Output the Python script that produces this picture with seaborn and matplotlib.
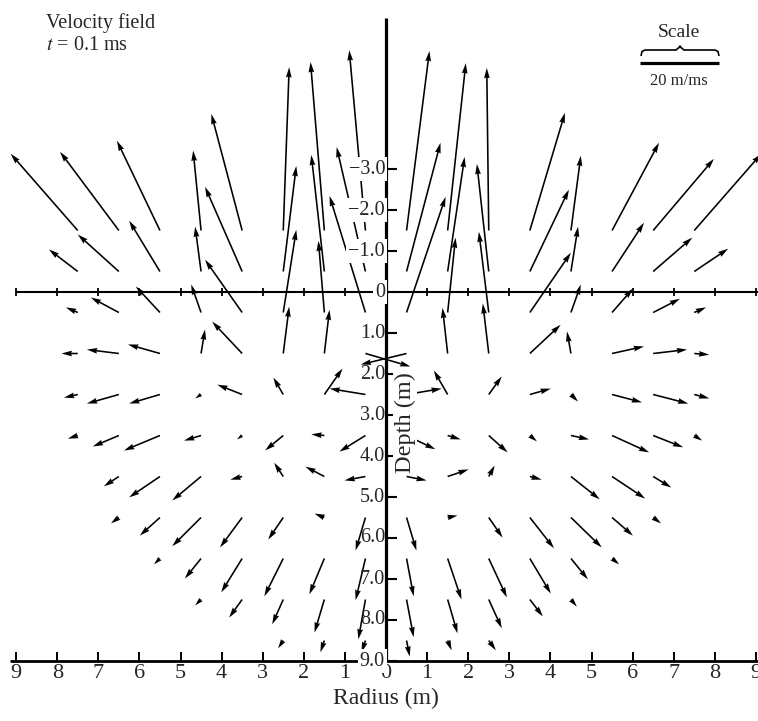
import numpy as np
import pandas as pd
import matplotlib
matplotlib.use("Agg")
import matplotlib.pyplot as plt
import seaborn as sns

nan = np.nan

# ---------------- data (velocity field, m/ms) ----------------
radius_cols = [-7.5, -6.5, -5.5, -4.5, -3.5, -2.5, -1.5, -0.5,
               0.5, 1.5, 2.5, 3.5, 4.5, 5.5, 6.5, 7.5]
depth_rows = [-1.5, -0.5, 0.5, 1.5, 2.5, 3.5, 4.5, 5.5, 6.5, 7.5, 8.5]

# radial velocity (m/ms), one list per depth row
u_radial = [
    [-17.0, -14.9, -10.9, -2.0, -7.8, 1.5, -3.5, -4.1, 5.8, 4.6, -0.5, 8.9, 2.5, 11.9, 15.4, 17.0],
    [-7.3, -10.4, -7.8, -1.5, -9.4, 3.3, -3.3, -7.3, 8.6, 4.3, -3.0, 9.9, 1.8, 8.1, 9.9, 8.6],
    [-3.0, -7.1, -6.1, -2.5, -9.4, 3.3, -1.5, -9.1, 9.9, 2.0, -2.5, 10.4, 2.5, 5.3, 6.8, 3.0],
    [-4.1, -8.1, -8.1, 1.0, -7.6, 1.5, 1.3, 11.4, -11.6, -1.3, -1.5, 7.8, -1.0, 8.1, 8.6, 3.8],
    [-3.5, -8.1, -7.8, -1.5, -6.3, -2.5, 4.6, -9.1, 8.9, -3.5, 3.3, 5.3, 1.8, 7.6, 8.9, 3.8],
    [-2.5, -6.6, -9.1, -4.3, -1.3, -4.6, -3.3, -6.6, 7.3, 3.3, 4.8, 1.8, 4.6, 9.4, 7.6, 2.0],
    [nan, -3.8, -7.8, -7.3, -3.0, -2.3, -4.8, -5.3, 5.1, 5.3, 1.5, 3.0, 7.3, 8.4, 4.6, nan],
    [nan, -2.0, -5.1, -7.3, -5.6, -3.8, -2.5, -2.5, 2.5, 2.5, 3.5, 6.1, 7.8, 5.3, 2.0, nan],
    [nan, nan, -1.5, -4.1, -5.3, -4.8, -3.8, -2.5, 1.8, 3.5, 4.6, 5.3, 4.3, 1.8, nan, nan],
    [nan, nan, nan, -1.5, -3.3, -2.8, -2.5, -1.8, 1.8, 2.5, 3.3, 3.3, 1.5, nan, nan, nan],
    [nan, nan, nan, nan, nan, -1.3, -1.0, -1.0, 0.8, 1.0, 1.8, nan, nan, nan, nan, nan],
]
# vertical velocity (m/ms, positive = downward / increasing depth)
w_down = [
    [-19.5, -20.0, -22.8, -20.3, -29.6, -41.5, -42.8, -45.8, -45.6, -42.5, -41.3, -29.9, -19.0, -22.3, -18.2, -19.5],
    [-5.6, -9.4, -12.9, -11.4, -21.5, -26.8, -29.6, -31.6, -32.7, -29.1, -27.3, -20.8, -11.4, -12.4, -8.6, -5.8],
    [-1.3, -3.8, -6.6, -7.1, -13.4, -21.0, -18.2, -29.6, -29.4, -19.0, -20.5, -15.2, -7.1, -6.1, -3.5, -1.3],
    [0.0, -1.0, -2.3, -6.1, -8.1, -11.9, -11.1, 3.3, 2.8, -11.6, -12.7, -7.3, -5.6, -1.8, -1.0, 0.3],
    [0.8, 2.3, 2.3, 1.0, -2.5, -4.3, -6.6, -1.5, -1.5, -6.1, -4.6, -1.5, 1.8, 2.0, 2.3, 1.0],
    [0.8, 2.8, 3.8, 1.3, 1.0, 3.8, -0.3, 4.1, 3.5, 1.0, 4.3, 1.5, 1.0, 4.3, 3.0, 1.3],
    [nan, 2.5, 5.3, 6.1, 0.8, -3.5, -2.5, 1.0, 1.0, -1.8, -2.8, 0.8, 5.8, 5.6, 2.8, nan],
    [nan, 1.5, 4.6, 7.3, 7.6, 5.6, -1.0, 8.4, 8.4, -0.5, 5.1, 7.8, 7.6, 4.6, 1.5, nan],
    [nan, nan, 1.5, 5.1, 8.6, 9.6, 9.1, 10.6, 9.6, 10.4, 9.9, 8.9, 5.3, 1.5, nan, nan],
    [nan, nan, nan, 1.5, 4.6, 6.3, 8.4, 10.1, 9.6, 8.6, 7.3, 4.3, 1.8, nan, nan, nan],
    [nan, nan, nan, nan, nan, 2.0, 3.0, 3.0, 4.1, 2.5, 2.5, nan, nan, nan, nan, nan],
]

radius_ticks = list(range(-9, 10))
radius_tick_labels = [str(abs(v)) for v in radius_ticks]
depth_ticks = list(range(-3, 10))
depth_tick_labels = ["\u22123.0", "\u22122.0", "\u22121.0", "0", "1.0", "2.0", "3.0",
                     "4.0", "5.0", "6.0", "7.0", "8.0", "9.0"]
scale_velocity = 20.0      # m/ms
scale_length = 1.92        # metres of plot that represent scale_velocity

# ---------------- build table ----------------
R, D = np.meshgrid(radius_cols, depth_rows)
df = pd.DataFrame({
    "radius": R.ravel(),
    "depth": D.ravel(),
    "u": np.array(u_radial, dtype=float).ravel(),
    "w": np.array(w_down, dtype=float).ravel(),
}).dropna()

# ---------------- style ----------------
sns.set_theme(style="white")
plt.rcParams["font.family"] = ["Liberation Serif", "DejaVu Serif"]
plt.rcParams["mathtext.fontset"] = "stix"

W, H = 758, 721
fig = plt.figure(figsize=(W / 100, H / 100), dpi=100)
ax = fig.add_axes([0, 0, 1, 1])

def X(px):
    return (px - 386) / 41.1

def Y(py):
    return (py - 292) / 41.0

ax.set_xlim(X(0), X(W))
ax.set_ylim(Y(H), Y(0))
ax.axis("off")

# ---------------- arrows ----------------
ax.quiver(df["radius"], df["depth"], df["u"], df["w"],
          angles="xy", scale_units="xy", scale=scale_velocity / scale_length,
          pivot="tail", units="dots", width=1.6, headwidth=3.6,
          headlength=6.5, headaxislength=6.0, minlength=0.1,
          color="black", zorder=2)

k = dict(color="black", solid_capstyle="butt", zorder=4)
# vertical axis
ax.plot([0, 0], [Y(18), depth_ticks[-1]], lw=2.3, **k)
# horizontal axis at depth 0
ax.plot([radius_ticks[0], X(W)], [0, 0], lw=1.5, **k)
for r in radius_ticks:
    if r != 0:
        ax.plot([r, r], [Y(288), Y(296)], lw=1.3, **k)
# bottom axis at depth 9
ax.plot([X(10), X(W)], [depth_ticks[-1]] * 2, lw=2.0, **k)
for r in radius_ticks:
    ax.plot([r, r], [depth_ticks[-1], depth_ticks[-1] - 0.22], lw=1.4, **k)
for r, lab in zip(radius_ticks, radius_tick_labels):
    ax.text(r, Y(674), lab, ha="center", va="center", fontsize=16, zorder=5)

# depth ticks and labels (upper labels and 9.0 sit on white patches, as in the print)
for d, lab in zip(depth_ticks, depth_tick_labels):
    ax.plot([0, X(397)], [d, d], lw=1.5, **k)
    boxed = d <= 0 or d == depth_ticks[-1]
    ax.text(X(385), d, lab, ha="right", va="center", fontsize=14.5, zorder=5,
            bbox=dict(boxstyle="square,pad=0.1", fc="white", ec="none") if boxed else None)

ax.text(X(386), Y(698), "Radius (m)", ha="center", va="center", fontsize=17, zorder=5)
ax.text(X(405), Y(423), "Depth (m)", ha="center", va="center", rotation=90,
        fontsize=17.5, zorder=5,
        bbox=dict(boxstyle="square,pad=0.05", fc="white", ec="none"))

# titles
ax.text(X(46), Y(28), "Velocity field", ha="left", va="baseline", fontsize=14.5, zorder=5)
ax.text(X(46), Y(50), r"$t$ = 0.1 ms", ha="left", va="baseline", fontsize=14.5, zorder=5)

# scale
ax.text(X(679), Y(37), "Scale", ha="center", va="baseline", fontsize=14, zorder=5)
brace_px = [(641, 56), (642, 51.5), (645, 50), (676, 50), (679, 47.5), (680, 46),
            (681, 47.5), (684, 50), (715, 50), (718, 51.5), (719, 56)]
ax.plot([X(p[0]) for p in brace_px], [Y(p[1]) for p in brace_px], lw=1.2, **k)
x0 = X(640)
ax.plot([x0, x0 + scale_velocity / (scale_velocity / scale_length)], [Y(62.5)] * 2,
        lw=2.3, **k)
ax.text(X(679), Y(85), "20 m/ms", ha="center", va="baseline", fontsize=12, zorder=5)

fig.savefig("out.png", dpi=100)
